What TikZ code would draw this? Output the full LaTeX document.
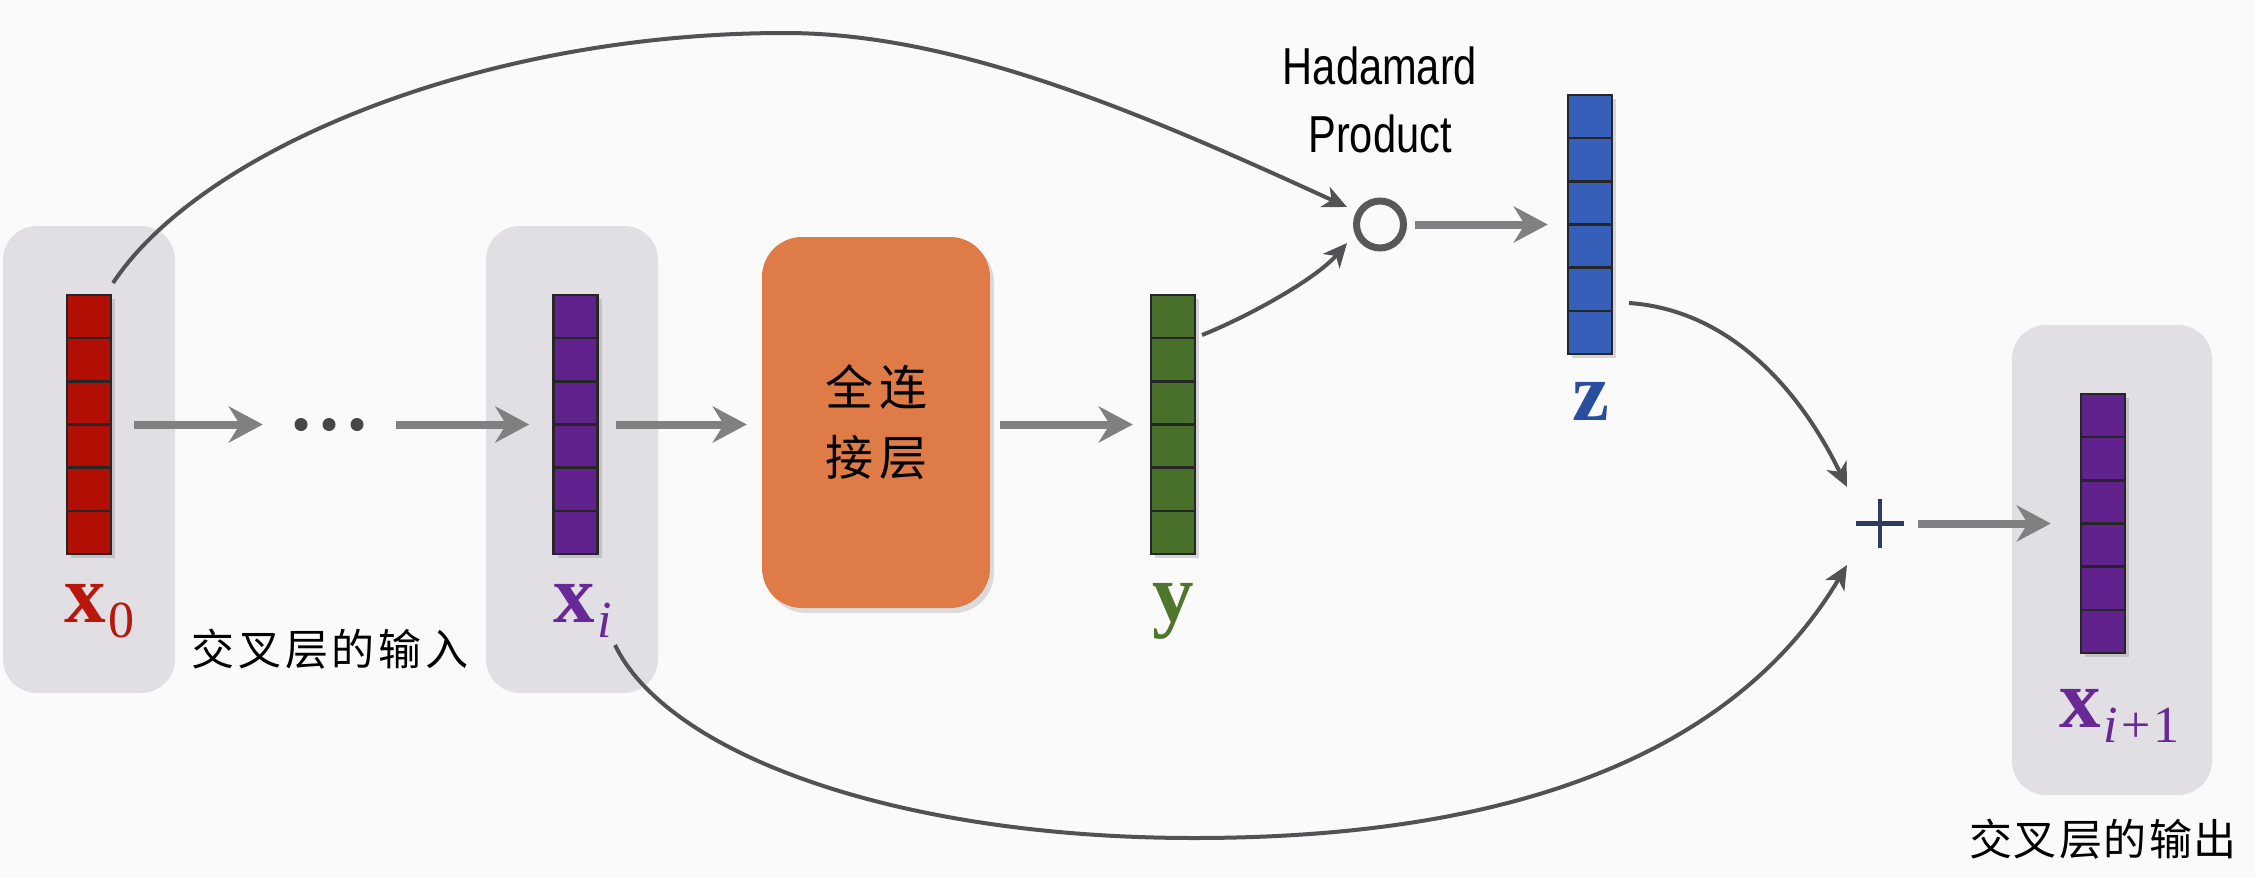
\documentclass[tikz,border=0pt]{standalone}
\usepackage{fontspec}
\setmainfont{Liberation Serif}
\newfontfamily\cjk{Noto Sans CJK SC}
\newfontfamily\hsans{Liberation Sans}
\usepackage{graphicx}
\usetikzlibrary{arrows.meta,shadows,calc}
\definecolor{bg}{RGB}{251,250,251}
\definecolor{boxgray}{RGB}{225,223,227}
\definecolor{barred}{RGB}{178,14,4}
\definecolor{barpurple}{RGB}{98,34,142}
\definecolor{bargreen}{RGB}{72,112,42}
\definecolor{barblue}{RGB}{53,95,185}
\definecolor{fcorange}{RGB}{222,123,70}
\definecolor{labred}{RGB}{185,22,12}
\definecolor{labpurple}{RGB}{104,40,150}
\definecolor{labgreen}{RGB}{78,118,45}
\definecolor{labblue}{RGB}{42,78,158}
\definecolor{arrgray}{RGB}{128,127,130}
\definecolor{curvegray}{RGB}{82,82,85}
\definecolor{circgray}{RGB}{88,88,90}
\definecolor{plusblue}{RGB}{45,60,92}
\definecolor{dotgray}{RGB}{70,70,72}
\newcommand\subtxt[1]{\hspace{3pt}\raisebox{-15pt}{\mdseries\fontsize{52}{52}\selectfont #1}}
\begin{document}
\begin{tikzpicture}[x=1pt,y=-1pt,
  gbox/.style={fill=boxgray, rounded corners=34pt, minimum width=172pt, minimum height=467pt, inner sep=0},
  vbar/.style={draw=black!85, line width=2.5pt, minimum width=44pt, minimum height=259pt, inner sep=0,
    drop shadow={shadow xshift=4pt, shadow yshift=-4pt, opacity=0.3},
    path picture={\foreach \k in {1,...,5}{\draw[black!85, line width=2.5pt]
      ($(path picture bounding box.north west)!\k/6!(path picture bounding box.south west)$) --
      ($(path picture bounding box.north east)!\k/6!(path picture bounding box.south east)$);}}},
  sarrow/.style={draw=arrgray, line width=8pt, -{Stealth[length=34pt, width=36pt, inset=11pt]}},
  carrow/.style={draw=curvegray, line width=4pt, -{Stealth[length=24pt, width=22pt, inset=7pt]}},
  lab/.style={inner sep=0, anchor=base west, font=\bfseries\fontsize{83}{90}\selectfont},
  cjklab/.style={inner sep=0, font=\cjk\fontsize{43}{50}\selectfont},
  plusline/.style={draw=plusblue, line width=4.5pt}
]
\fill[bg] (0,0) rectangle (2255,878);
\useasboundingbox (0,0) rectangle (2255,878);

% grey group boxes
\node[gbox] (g0) at (89,459.5) {};
\node[gbox] (gi) at (572,459.5) {};
\node[gbox, minimum width=200pt, minimum height=470pt] (gi1) at (2112,560) {};

% vectors
\node[vbar, fill=barred] (x0bar) at (89,424.5) {};
\node[vbar, fill=barpurple] (xibar) at (575.5,424.5) {};
\node[vbar, fill=bargreen] (ybar) at (1173,424.5) {};
\node[vbar, fill=barblue] (zbar) at (1590,224.5) {};
\node[vbar, fill=barpurple] (xi1bar) at (2103,523.5) {};

% labels
\node[lab, text=labred] (x0lab) at (64,622) {x\subtxt{0}};
\node[lab, text=labpurple] (xilab) at (553,622) {x\subtxt{\itshape i}};
\node[lab, text=labgreen] (ylab) at (1152,621) {y};
\node[lab, text=labblue] (zlab) at (1572,420) {z};
\node[lab, text=labpurple] (xi1lab) at (2059,727) {x\subtxt{\itshape i\upshape\hspace{3pt}+\hspace{3pt}1}};

\node[cjklab] (inlab) at (330,649) {交\hspace{4pt}叉\hspace{4pt}层\hspace{4pt}的\hspace{4pt}输\hspace{4pt}入};
\node[cjklab] (outlab) at (2103,839) {交\hspace{2pt}叉\hspace{2pt}层\hspace{2pt}的\hspace{2pt}输\hspace{2pt}出};

% fully connected layer
\node[fill=fcorange, rounded corners=40pt, minimum width=228pt, minimum height=371pt, inner sep=0,
  drop shadow={shadow xshift=4pt, shadow yshift=-5pt, opacity=0.25},
  align=center, font=\cjk\fontsize{48}{70}\selectfont] (fc) at (876,422.5)
  {全\hspace{6pt}连\\接\hspace{6pt}层};

% dots
\node[inner sep=0, minimum width=70pt, minimum height=14pt] (dots) at (329,424.5) {};
\foreach \dx in {-28,0,28} \fill[dotgray] ([xshift=\dx pt]dots.center) circle (6.5pt);

% Hadamard product
\node[circle, draw=circgray, line width=7pt, minimum size=47pt, inner sep=0, fill=bg] (had) at (1380,224.5) {};
\node[inner sep=0, align=center, font=\hsans\fontsize{52}{68}\selectfont] (hadlab) at (1380,100)
  {\scalebox{0.8}[1]{Hadamard}\\\scalebox{0.8}[1]{Product}};

% plus
\node[inner sep=0, minimum size=48pt] (plus) at (1880,523.5) {};
\draw[plusline] (plus.west) -- (plus.east);
\draw[plusline] (plus.north) -- (plus.south);

% straight arrows (horizontal)
\draw[sarrow, shorten <=22pt, shorten >=31pt] (x0bar.east) -- (x0bar.east -| dots.west);
\draw[sarrow, shorten <=32pt, shorten >=23pt] (dots.east) -- (dots.east -| xibar.west);
\draw[sarrow, shorten <=17pt, shorten >=15pt] (xibar.east) -- (xibar.east -| fc.west);
\draw[sarrow, shorten <=10pt, shorten >=17pt] (ybar.west -| fc.east) -- (ybar.west);
\draw[sarrow, shorten <=8pt, shorten >=19pt] (had.east) -- (had.east -| zbar.west);
\draw[sarrow, shorten <=14pt, shorten >=29pt] (plus.east) -- (plus.east -| xi1bar.west);

% curved connectors
\coordinate (t0) at (113,283);
\coordinate (hadin1) at (1347,207);
\coordinate (yc0) at (1202,335);
\coordinate (hadin2) at (1347,243);
\coordinate (zc0) at (1629,303);
\coordinate (plusin1) at (1847,487);
\coordinate (bc0) at (615,645);
\coordinate (plusin2) at (1847,565);

\draw[carrow] (t0) .. controls (201,150) and (480,33) .. (785,33)
  .. controls (955,33) and (1140,112) .. (hadin1);
\draw[carrow] (yc0) .. controls (1245,318) and (1315,280) .. (hadin2);
\draw[carrow] (zc0) .. controls (1730,310) and (1800,390) .. (plusin1);
\draw[carrow] (bc0) .. controls (667,753) and (894,838) .. (1194,838)
  .. controls (1544,838) and (1745,737) .. (plusin2);
\end{tikzpicture}
\end{document}
